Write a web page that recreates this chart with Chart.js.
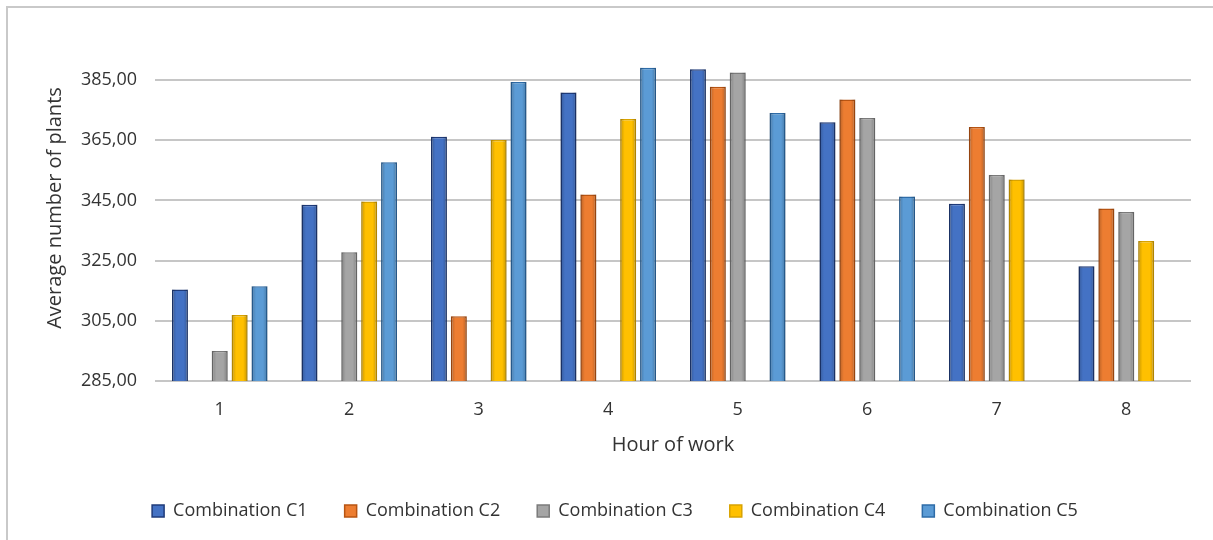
<!DOCTYPE html>
<html>
<head>
<meta charset="utf-8">
<script src="https://cdn.jsdelivr.net/npm/chart.js@4.4.1/dist/chart.umd.min.js"></script>
<style>
  html, body { margin: 0; padding: 0; background: #ffffff; }
  #wrap { position: relative; width: 1213px; height: 540px; overflow: hidden; }
  #frame { position: absolute; left: 6px; top: 6px; right: -4px; bottom: -4px;
           border-left: 2px solid #c9c9c9; border-top: 2px solid #c9c9c9; }
  #chart { position: absolute; left: 0; top: 0; }
</style>
</head>
<body>
<div id="wrap">
  <div id="frame"></div>
  <canvas id="chart" width="1213" height="540"></canvas>
</div>
<script>
// Hours of work (categories)
const hours = ['1', '2', '3', '4', '5', '6', '7', '8'];

// Average number of plants per hour for each combination (null = no bar shown)
const combinationC1 = [315.4, 343.6, 366.2, 380.9, 388.6, 371.0, 343.9, 323.1];
const combinationC2 = [null, null, 306.5, 347.0, 382.8, 378.6, 369.4, 342.3];
const combinationC3 = [295.0, 327.8, null, null, 387.5, 372.4, 353.5, 341.2];
const combinationC4 = [306.9, 344.7, 365.1, 372.1, null, null, 352.0, 331.5];
const combinationC5 = [316.5, 357.7, 384.4, 389.1, 374.1, 346.3, null, null];

// Value axis ticks
const yTicks = [285, 305, 325, 345, 365, 385];

const seriesNames = ['Combination C1', 'Combination C2', 'Combination C3', 'Combination C4', 'Combination C5'];
const seriesValues = [combinationC1, combinationC2, combinationC3, combinationC4, combinationC5];
const fills   = ['#4472c4', '#ed7d31', '#a5a5a5', '#ffc000', '#5b9bd5'];
const borders = ['#1f3b7a', '#b85412', '#7b7b7b', '#d9a300', '#2e6ca8'];

const FONT = '"Open Sans", "Noto Sans", sans-serif';
const TEXT = '#333333';

// Soft shading toward the left/right edges of each bar
const barShade = {
  id: 'barShade',
  afterDatasetsDraw(chart) {
    const ctx = chart.ctx;
    const yScale = chart.scales.y;
    const basePx = yScale.getPixelForValue(yScale.min);
    chart.data.datasets.forEach((ds, di) => {
      const meta = chart.getDatasetMeta(di);
      meta.data.forEach((el, i) => {
        const v = ds.data[i];
        if (v == null) return;
        const topPx = yScale.getPixelForValue(v);
        const x0 = el.x - el.width / 2, x1 = el.x + el.width / 2;
        const g = ctx.createLinearGradient(x0, 0, x1, 0);
        g.addColorStop(0, 'rgba(0,0,0,0.22)');
        g.addColorStop(0.28, 'rgba(0,0,0,0)');
        g.addColorStop(0.72, 'rgba(0,0,0,0)');
        g.addColorStop(1, 'rgba(0,0,0,0.22)');
        ctx.save();
        ctx.fillStyle = g;
        ctx.fillRect(x0, topPx, x1 - x0, basePx - topPx);
        ctx.restore();
      });
    });
  }
};

new Chart(document.getElementById('chart'), {
  type: 'bar',
  data: {
    labels: hours,
    datasets: seriesNames.map((name, i) => ({
      label: name,
      data: seriesValues[i],
      backgroundColor: fills[i],
      borderColor: borders[i],
      borderWidth: 1.5,
      borderSkipped: false,
      categoryPercentage: 0.768,
      barPercentage: 0.8
    }))
  },
  options: {
    responsive: false,
    animation: false,
    events: [],
    layout: { padding: { left: 39, right: 22, top: 35, bottom: 10 } },
    plugins: {
      tooltip: { enabled: false },
      legend: {
        position: 'bottom',
        labels: {
          boxWidth: 12,
          boxHeight: 12,
          padding: 37,
          color: TEXT,
          font: { family: FONT, size: 18 }
        }
      }
    },
    scales: {
      x: {
        grid: { display: false, drawTicks: false },
        border: { display: false },
        ticks: { color: TEXT, padding: 18, font: { family: FONT, size: 18 } },
        title: {
          display: true,
          text: 'Hour of work',
          color: TEXT,
          padding: { top: 4, bottom: 8 },
          font: { family: FONT, size: 20 }
        },
        afterFit(axis) { axis.height = 84; }
      },
      y: {
        min: 285,
        max: 400,
        afterBuildTicks(axis) { axis.ticks = yTicks.map(v => ({ value: v })); },
        grid: { color: '#c6c6c6', lineWidth: 2, drawTicks: false },
        border: { display: false },
        ticks: {
          color: TEXT,
          padding: 18,
          font: { family: FONT, size: 18 },
          callback: v => v.toFixed(2).replace('.', ',')
        },
        title: {
          display: true,
          text: 'Average number of plants',
          color: TEXT,
          padding: { top: 4, bottom: 4 },
          font: { family: FONT, size: 20 }
        },
        afterFit(axis) { axis.width = 116; }
      }
    }
  },
  plugins: [barShade]
});
</script>
</body>
</html>
